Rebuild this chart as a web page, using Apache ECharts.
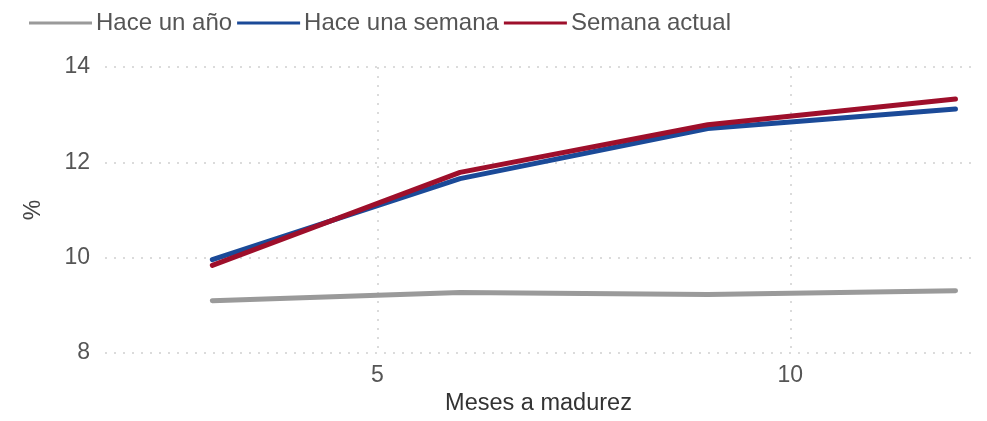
<!DOCTYPE html>
<html>
<head>
<meta charset="utf-8">
<script src="https://cdn.jsdelivr.net/npm/echarts@6/dist/echarts.min.js"></script>
<style>
  html, body { margin: 0; padding: 0; background: #fff; }
  #chart { width: 987px; height: 421px; }
</style>
</head>
<body>
<div id="chart"></div>
<script>
// meses a madurez
var meses = [3, 6, 9, 12];
var haceUnAnio = [9.10, 9.27, 9.23, 9.31];
var haceUnaSemana = [9.96, 11.66, 12.71, 13.12];
var semanaActual = [9.84, 11.79, 12.79, 13.33];
var xTicks = [5, 10];
var yTicks = [8, 10, 12, 14];

function pares(xs, ys) {
  return xs.map(function (x, i) { return [x, ys[i]]; });
}

var fuente = '"Liberation Sans", Arial, sans-serif';
var gridStyle = { color: '#d0d0d0', width: 1.5, type: [2, 7] };

var myChart = echarts.init(document.getElementById('chart'));

var option = {
  animation: false,
  legend: {
    left: 24,
    top: 6,
    icon: 'rect',
    itemWidth: 63,
    itemHeight: 3,
    itemGap: 5,
    textStyle: { fontFamily: fuente, fontSize: 24, color: '#555', padding: [0, 0, 0, -1] },
    data: ['Hace un año', 'Hace una semana', 'Semana actual']
  },
  grid: { left: 105, right: 15, top: 67, bottom: 66 },
  xAxis: {
    type: 'value',
    min: 1.7,
    max: 12.2,
    name: 'Meses a madurez',
    nameLocation: 'middle',
    nameGap: 33,
    nameTextStyle: { fontFamily: fuente, fontSize: 23.5, color: '#333' },
    axisLine: { show: false },
    axisTick: { show: false, customValues: xTicks },
    axisLabel: { customValues: xTicks, margin: 11, fontFamily: fuente, fontSize: 23, color: '#555' },
    splitLine: { show: true, lineStyle: gridStyle }
  },
  yAxis: {
    type: 'value',
    min: yTicks[0],
    max: yTicks[yTicks.length - 1],
    interval: 2,
    name: '%',
    nameLocation: 'middle',
    nameRotate: 90,
    nameGap: 60,
    nameTextStyle: { fontFamily: fuente, fontSize: 23, color: '#444' },
    axisLine: { show: false },
    axisTick: { show: false },
    axisLabel: { margin: 15, fontFamily: fuente, fontSize: 23, color: '#555' },
    splitLine: { show: true, lineStyle: gridStyle }
  },
  series: [
    {
      name: 'Hace un año', type: 'line', symbol: 'none',
      data: pares(meses, haceUnAnio),
      itemStyle: { color: '#9a9a9a' },
      lineStyle: { width: 5, color: '#9a9a9a', cap: 'round' }
    },
    {
      name: 'Hace una semana', type: 'line', symbol: 'none',
      data: pares(meses, haceUnaSemana),
      itemStyle: { color: '#1b4a98' },
      lineStyle: { width: 5, color: '#1b4a98', cap: 'round' }
    },
    {
      name: 'Semana actual', type: 'line', symbol: 'none',
      data: pares(meses, semanaActual),
      itemStyle: { color: '#9e0f2b' },
      lineStyle: { width: 5, color: '#9e0f2b', cap: 'round' }
    }
  ]
};

myChart.setOption(option);
</script>
</body>
</html>
